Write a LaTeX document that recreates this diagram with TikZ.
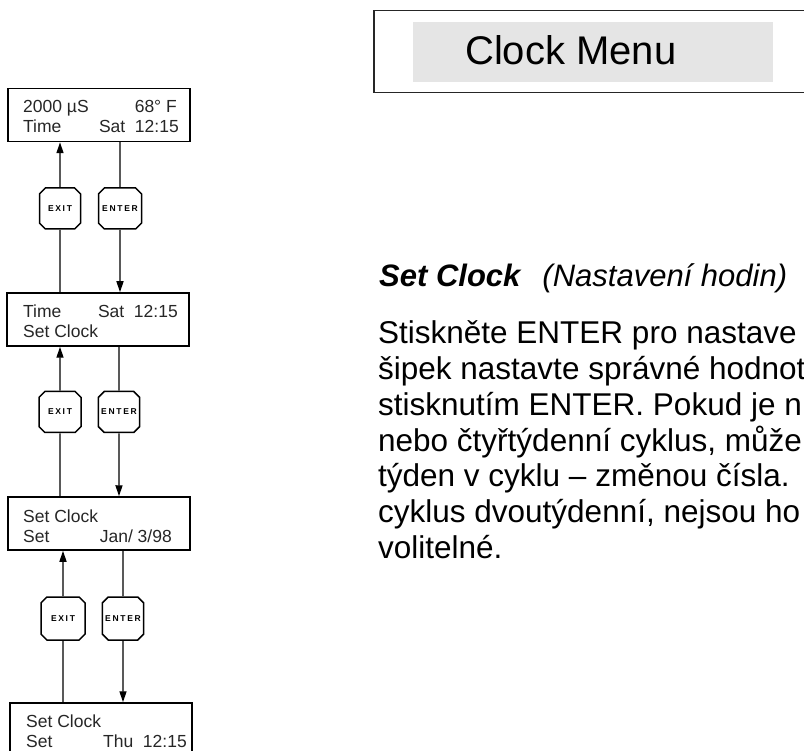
\documentclass[tikz,border=0pt]{standalone}
\usepackage{fontspec}
\setmainfont{Liberation Sans}
\newfontfamily\keyfont[LetterSpace=20]{Liberation Sans}
\usetikzlibrary{shapes.misc,arrows.meta}

\begin{document}
\begin{tikzpicture}[x=1pt,y=-1pt,
  display/.style={draw, line width=1.5pt, minimum width=182pt, minimum height=53pt, inner sep=0pt},
  lcd/.style={inner sep=0pt, text=black!85, font=\fontsize{17.5}{20}\selectfont},
  keybox/.style={draw, line width=1.5pt, chamfered rectangle, chamfered rectangle xsep=3pt,
    chamfered rectangle ysep=3pt, inner sep=0pt, minimum width=41pt, minimum height=41pt,
    font=\keyfont\fontsize{8.5}{9}\selectfont\bfseries},
  link/.style={line width=1.4pt},
  arr/.style={link, -{Triangle[length=11pt,width=7pt]}},
  body/.style={inner sep=0pt, anchor=base west, font=\fontsize{31.5}{36}\selectfont}
]
\useasboundingbox (0,0) rectangle (804,751);

% ---- display screens of the clock menu ----
\node[display] (d1) at (99,115) {};
\node[display] (d2) at (98,319.5) {};
\node[display] (d3) at (99,523.5) {};
\node[display] (d4) at (101,729.5) {};

\node[lcd, anchor=base west] (d1a) at (23,113) {2000 µS};
\node[lcd, anchor=base east] (d1b) at (177,113) {68° F};
\node[lcd, anchor=base west] (d1c) at (23,133) {Time};
\node[lcd, anchor=base east] (d1d) at (179,133) {Sat\ \ 12:15};

\node[lcd, anchor=base west] (d2a) at (23,318) {Time};
\node[lcd, anchor=base east] (d2b) at (178,318) {Sat\ \ 12:15};
\node[lcd, anchor=base west] (d2c) at (23,338) {Set Clock};

\node[lcd, anchor=base west] (d3a) at (23,522) {Set Clock};
\node[lcd, anchor=base west] (d3b) at (23,542) {Set};
\node[lcd, anchor=base east] (d3c) at (172,542) {Jan/ 3/98};

\node[lcd, anchor=base west] (d4a) at (26,727) {Set Clock};
\node[lcd, anchor=base west] (d4b) at (26,747) {Set};
\node[lcd, anchor=base east] (d4c) at (187,747) {Thu\ \ 12:15};

% ---- keys ----
\node[keybox] (exit1) at (60,208.5) {EXIT};
\node[keybox, minimum width=43pt] (enter1) at (120,208.5) {ENTER};
\node[keybox, minimum width=42pt] (exit2) at (60,412) {EXIT};
\node[keybox] (enter2) at (119,412) {ENTER};
\node[keybox, minimum width=44pt, minimum height=43pt] (exit3) at (63,618.5) {EXIT};
\node[keybox, minimum height=43pt] (enter3) at (123,618.5) {ENTER};

% ---- connectors ----
\draw[arr] (exit1) -- (exit1 |- d1.south);
\draw[link] (d1.south -| enter1) -- (enter1);
\draw[link] (d2.north -| exit1) -- (exit1);
\draw[arr] (enter1) -- (enter1 |- d2.north);

\draw[arr] (exit2) -- (exit2 |- d2.south);
\draw[link] (d2.south -| enter2) -- (enter2);
\draw[link] (d3.north -| exit2) -- (exit2);
\draw[arr] (enter2) -- (enter2 |- d3.north);

\draw[arr] (exit3) -- (exit3 |- d3.south);
\draw[link] (d3.south -| enter3) -- (enter3);
\draw[link] (d4.north -| exit3) -- (exit3);
\draw[arr] (enter3) -- (enter3 |- d4.north);

% ---- menu title ----
\node[draw, line width=1.5pt, draw=black!85, anchor=north west, minimum width=442pt,
  minimum height=82pt, inner sep=0pt] (menubox) at (373,10) {};
\node[fill=black!10, anchor=north west, minimum width=360pt, minimum height=60pt,
  inner sep=0pt] (menubar) at (413,22) {};
\node[inner sep=0pt, anchor=base west, font=\fontsize{40}{46}\selectfont] (menutitle) at (465,65) {Clock Menu};

% ---- description ----
\node[inner sep=0pt, anchor=base west, font=\fontsize{31}{36}\selectfont\itshape] (head) at (379,287)
  {\textbf{Set Clock}\hspace{22pt}(Nastavení hodin)};
\node[body] (t1) at (378,344) {Stiskněte ENTER pro nastave};
\node[body] (t2) at (378,379.7) {šipek nastavte správné hodnot};
\node[body] (t3) at (378,415.4) {stisknutím ENTER. Pokud je n};
\node[body] (t4) at (378,451.1) {nebo čtyřtýdenní cyklus, může};
\node[body] (t5) at (378,486.8) {týden v cyklu – změnou čísla.};
\node[body] (t6) at (378,522.5) {cyklus dvoutýdenní, nejsou ho};
\node[body] (t7) at (378,558.2) {volitelné.};
\end{tikzpicture}
\end{document}
